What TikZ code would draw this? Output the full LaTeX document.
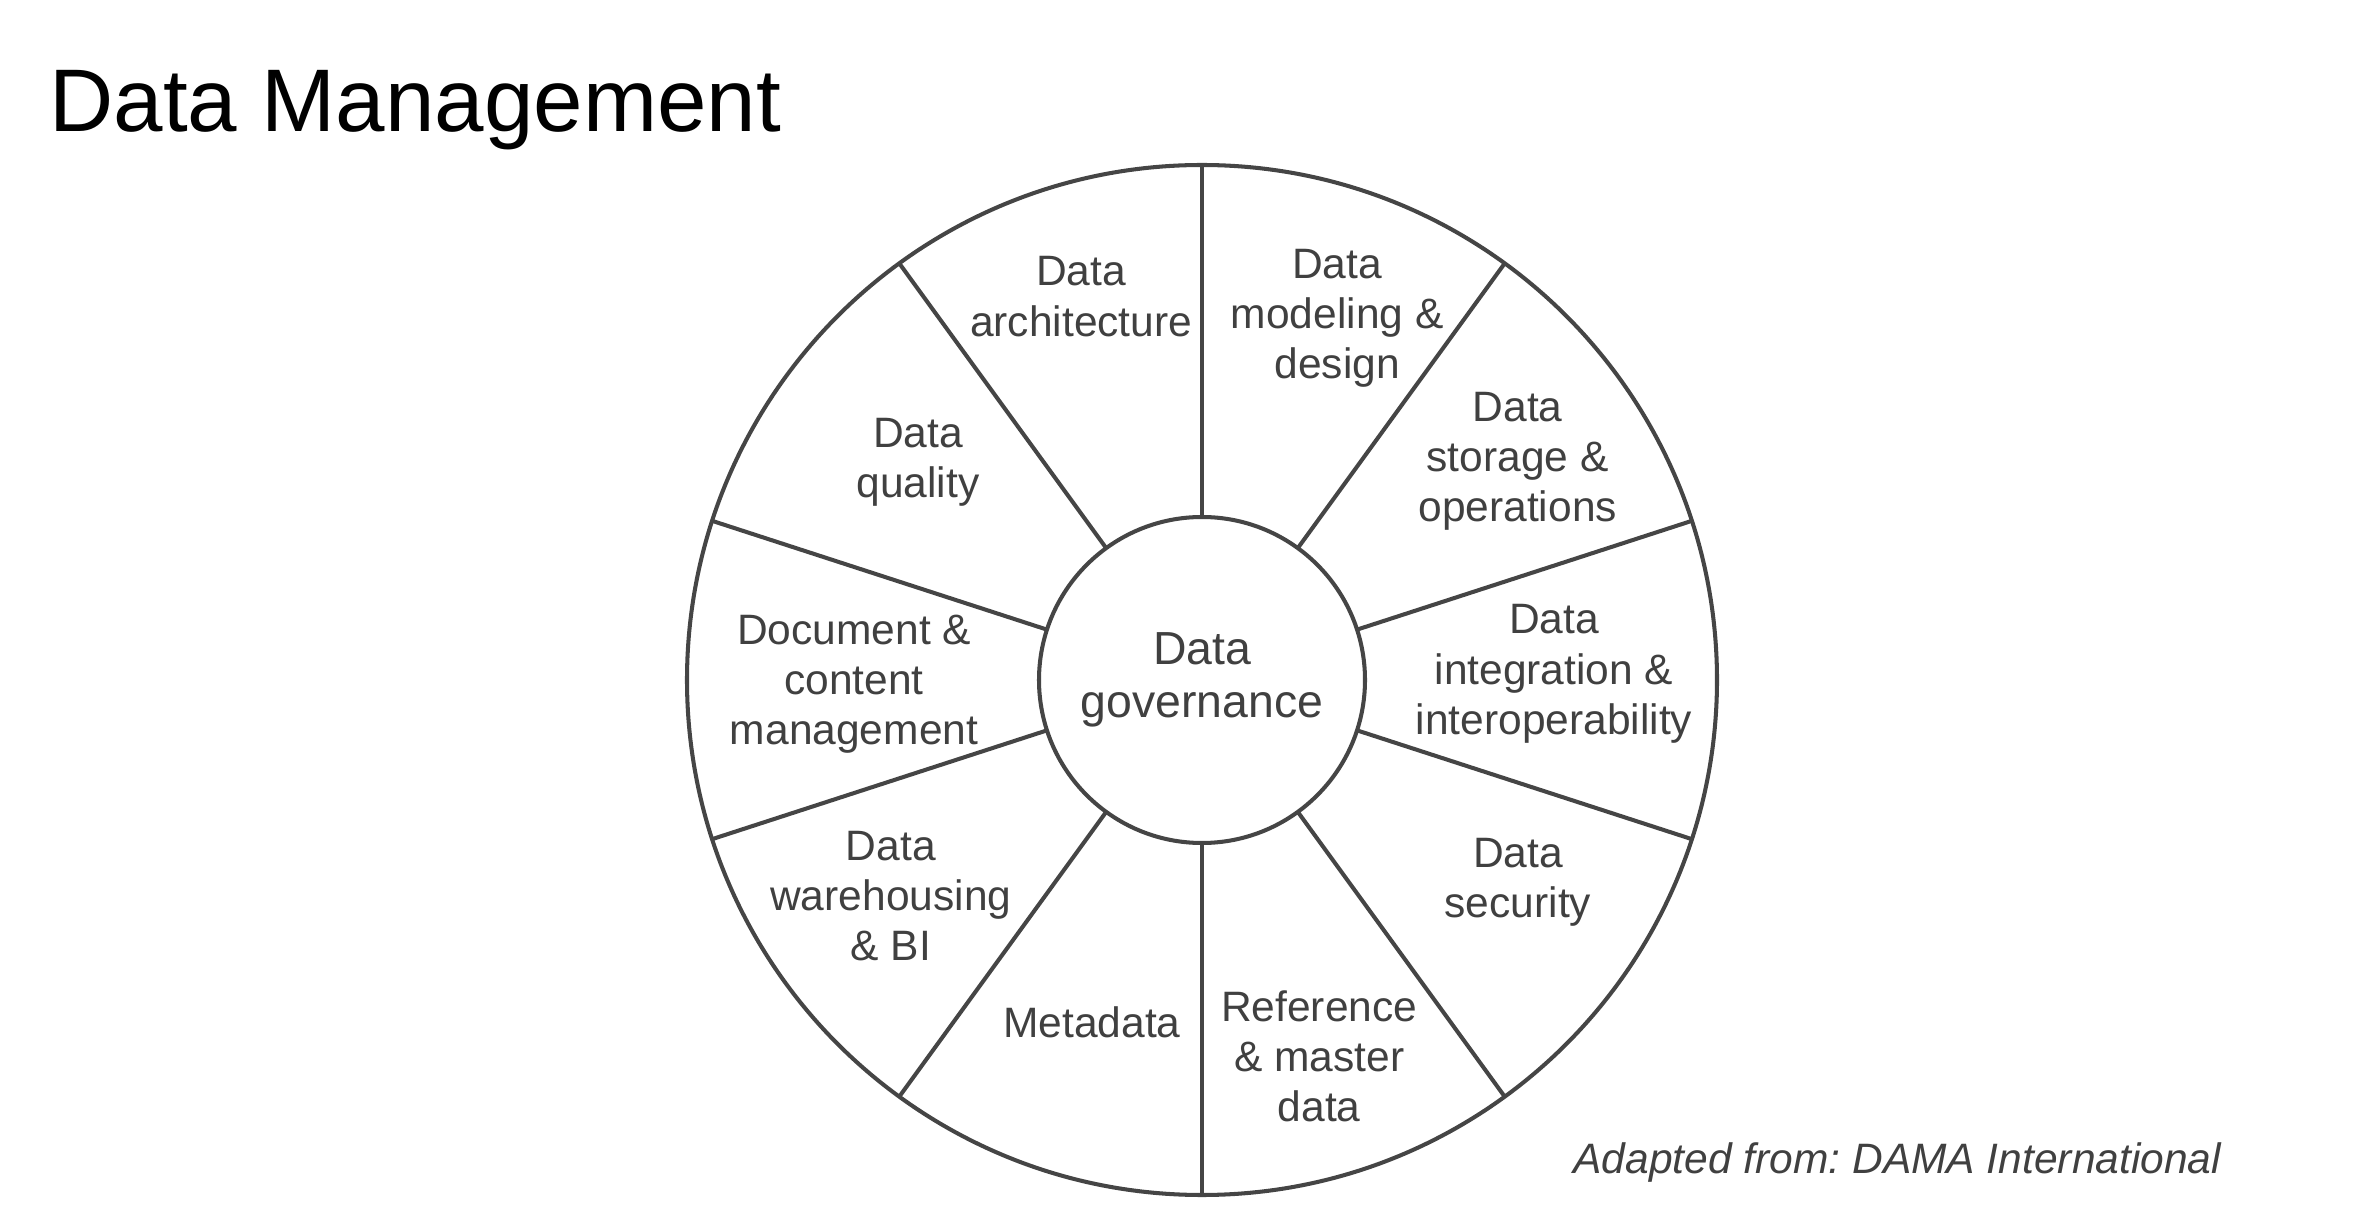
\documentclass[tikz,border=0pt]{standalone}
\usepackage{fontspec}
\setmainfont{Liberation Sans}
\definecolor{wheelgray}{HTML}{454545}
\definecolor{textgray}{HTML}{404040}
\frenchspacing

\begin{document}
\begin{tikzpicture}[
    wheel/.style={circle, draw=wheelgray, line width=1.15pt, outer sep=0pt, inner sep=0pt},
    area/.style={align=center, text=textgray, font=\fontsize{12.1}{14.3}\selectfont},
  ]

    % Fix the canvas
    \useasboundingbox (0,0) rectangle (23.6,12.06);

    % Title
    \node[anchor=base west, font=\fontsize{25.3}{30}\selectfont] (title) at (0.37,10.74) {Data Management};

    % Outer ring and hub
    \node[wheel, minimum size=10.3cm] (ring) at (12.02,5.26) {};
    \node[wheel, fill=white, minimum size=3.26cm, area, font=\fontsize{13.2}{15.2}\selectfont] (gov) at (ring.center) {Data\\governance};

    % Spokes between hub and ring
    \foreach \a in {18,54,...,342} {
        \draw[wheelgray, line width=1.15pt] (gov.\a) -- (ring.\a);
    }

    % Knowledge areas
    \foreach \ang/\rad/\nm/\txt in {
        107.5/4.02/arch/{Data\\architecture},
        69.5/3.86/model/{Data\\modeling \&\\design},
        34.7/3.84/store/{Data\\storage \&\\operations},
        1/3.52/integ/{Data\\integration \&\\interoperability},
        -32.6/3.75/secur/{Data\\security},
        -72.7/3.94/refer/{Reference\\\& master\\data},
        -107.8/3.60/meta/{Metadata},
        214.8/3.79/wareh/{Data\\warehousing\\\& BI},
        180.7/3.48/docum/{Document \&\\content\\management},
        142.5/3.58/qual/{Data\\quality}} {
        \node[area] (\nm) at ([shift={(\ang:\rad)}]ring.center) {\txt};
    }

    % Source
    \node[anchor=base west, text=textgray, font=\fontsize{12.1}{14}\selectfont\itshape] (source) at (15.61,0.33) {Adapted from: DAMA International};

\end{tikzpicture}
\end{document}
